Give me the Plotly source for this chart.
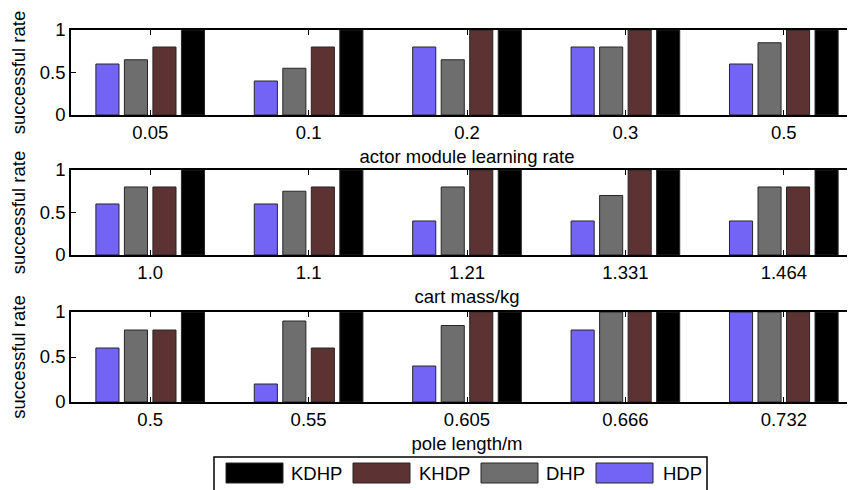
import plotly.graph_objects as go

# ---------------- data ----------------
series_names = ["HDP", "DHP", "KHDP", "KDHP"]
legend_order = ["KDHP", "KHDP", "DHP", "HDP"]
colors = {"HDP": "#7364F6", "DHP": "#6E6E6E", "KHDP": "#5C3233", "KDHP": "#000000"}

lr_labels = ["0.05", "0.1", "0.2", "0.3", "0.5"]
lr_HDP = [0.6, 0.4, 0.8, 0.8, 0.6]
lr_DHP = [0.65, 0.55, 0.65, 0.8, 0.85]
lr_KHDP = [0.8, 0.8, 1.0, 1.0, 1.0]
lr_KDHP = [1.0, 1.0, 1.0, 1.0, 1.0]

mass_labels = ["1.0", "1.1", "1.21", "1.331", "1.464"]
mass_HDP = [0.6, 0.6, 0.4, 0.4, 0.4]
mass_DHP = [0.8, 0.75, 0.8, 0.7, 0.8]
mass_KHDP = [0.8, 0.8, 1.0, 1.0, 0.8]
mass_KDHP = [1.0, 1.0, 1.0, 1.0, 1.0]

pole_labels = ["0.5", "0.55", "0.605", "0.666", "0.732"]
pole_HDP = [0.6, 0.2, 0.4, 0.8, 1.0]
pole_DHP = [0.8, 0.9, 0.85, 1.0, 1.0]
pole_KHDP = [0.8, 0.6, 1.0, 1.0, 1.0]
pole_KDHP = [1.0, 1.0, 1.0, 1.0, 1.0]

panel_titles = ["actor module learning rate", "cart mass/kg", "pole length/m"]
y_title = "successful rate"
y_ticks = [0, 0.5, 1]
y_ticktext = ["0", "0.5", "1"]

panels = [
    (lr_labels, {"HDP": lr_HDP, "DHP": lr_DHP, "KHDP": lr_KHDP, "KDHP": lr_KDHP}),
    (mass_labels, {"HDP": mass_HDP, "DHP": mass_DHP, "KHDP": mass_KHDP, "KDHP": mass_KDHP}),
    (pole_labels, {"HDP": pole_HDP, "DHP": pole_DHP, "KHDP": pole_KHDP, "KDHP": pole_KDHP}),
]

# ---------------- layout geometry ----------------
# page body has an 8px default margin; the figure is offset by it
OFF = 8
W, H = 855, 490
ML, MR, MT, MB = 63, 0, 22, 96
PW, PH = W - ML - MR, H - MT - MB
domains = [[0.7715, 1.0], [0.3952, 0.6237], [0.0, 0.2419]]
FONT = "Liberation Sans, Arial, sans-serif"
FS = 18.5

def px_x(px):
    return (px - OFF - ML) / PW

def px_y(py):
    return (H - MB - (py - OFF)) / PH

fig = go.Figure()
layout_axes = {}
for i, (labels, vals) in enumerate(panels):
    n = i + 1
    xa = "x" if n == 1 else f"x{n}"
    ya = "y" if n == 1 else f"y{n}"
    for s in series_names:
        fig.add_trace(go.Bar(
            x=labels, y=vals[s], name=s, showlegend=False,
            marker=dict(color=colors[s], line=dict(color="#262626", width=1)),
            xaxis=xa, yaxis=ya,
        ))
    xkey = "xaxis" if n == 1 else f"xaxis{n}"
    ykey = "yaxis" if n == 1 else f"yaxis{n}"
    layout_axes[xkey] = dict(
        type="category", domain=[0, 1], anchor=ya, automargin=False,
        range=[-0.5, 4.5],
        showline=True, linecolor="black", linewidth=1.5, mirror="allticks",
        ticks="inside", ticklen=5, tickcolor="black",
        showgrid=False, zeroline=False,
        tickfont=dict(family=FONT, size=FS, color="black"),
        ticklabelstandoff=0,
        title=dict(text=panel_titles[i], font=dict(family=FONT, size=FS, color="black"), standoff=8),
    )
    layout_axes[ykey] = dict(
        domain=domains[i], anchor=xa, range=[0, 1], automargin=False,
        tickvals=y_ticks, ticktext=y_ticktext,
        showline=True, linecolor="black", linewidth=1.5, mirror="allticks",
        ticks="inside", ticklen=5, tickcolor="black",
        showgrid=False, zeroline=False,
        tickfont=dict(family=FONT, size=FS, color="black"),
        title=dict(text=y_title, font=dict(family=FONT, size=FS, color="black"), standoff=19),
    )

# ---------------- custom legend ----------------
shapes = [dict(type="rect", xref="paper", yref="paper",
               x0=px_x(214), x1=px_x(707), y0=px_y(494), y1=px_y(457),
               line=dict(color="black", width=1.5), fillcolor="white", layer="above")]
annotations = []
sw_x = [226, 353, 481, 596]
tx_x = [289, 417, 544, 661]
for k, s in enumerate(legend_order):
    shapes.append(dict(type="rect", xref="paper", yref="paper",
                       x0=px_x(sw_x[k]), x1=px_x(sw_x[k] + 57), y0=px_y(483), y1=px_y(463),
                       fillcolor=colors[s], line=dict(color="#262626", width=1), layer="above"))
    annotations.append(dict(text=s, xref="paper", yref="paper", x=px_x(tx_x[k]), y=px_y(473),
                            xanchor="left", yanchor="middle", showarrow=False,
                            font=dict(family=FONT, size=FS, color="black")))

fig.update_layout(
    width=W, height=H,
    margin=dict(l=ML, r=MR, t=MT, b=MB, pad=0, autoexpand=False),
    paper_bgcolor="white", plot_bgcolor="white",
    barmode="group", bargap=0.28, bargroupgap=0.19,
    showlegend=False,
    shapes=shapes, annotations=annotations,
    font=dict(family=FONT, size=FS, color="black"),
    **layout_axes,
)

fig.write_html("out.html")
